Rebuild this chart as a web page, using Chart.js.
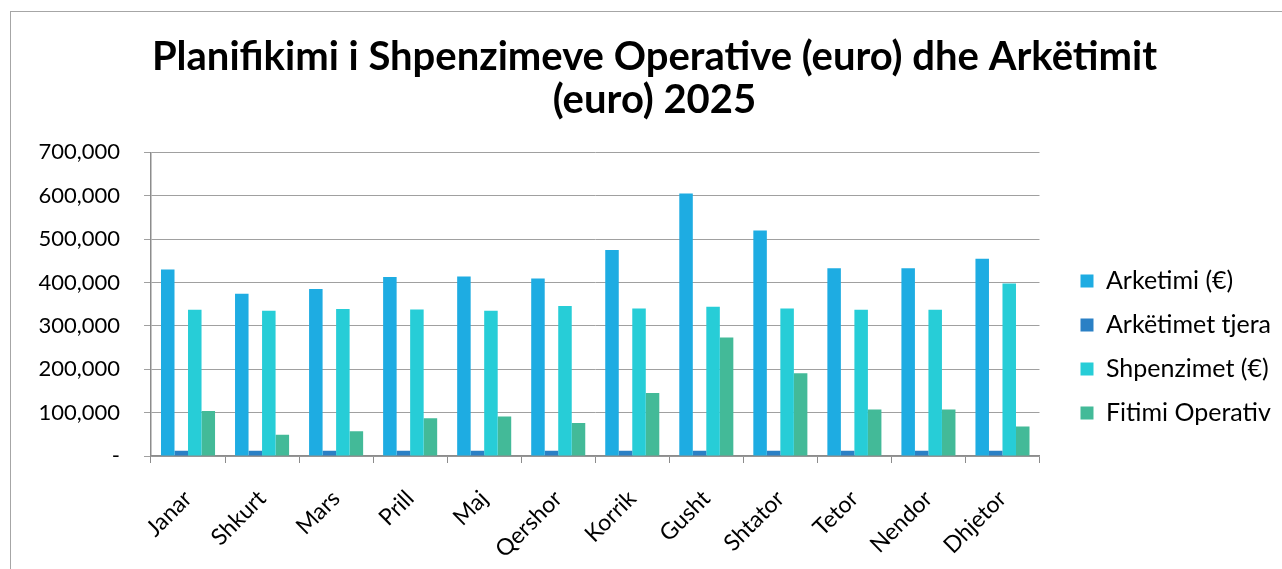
<!DOCTYPE html>
<html>
<head>
<meta charset="utf-8">
<script src="https://cdn.jsdelivr.net/npm/chart.js@4.4.1/dist/chart.umd.min.js"></script>
<style>
    html, body { margin: 0; padding: 0; background: #fff; }
    #frame { position: absolute; left: 10px; top: 11px; width: 1300px; height: 600px; border: 1px solid #a6a6a6; }
    #wrap { position: absolute; left: 0; top: 0; width: 1282px; height: 569px; }
</style>
</head>
<body>
<div id="frame"></div>
<div id="wrap"><canvas id="chart"></canvas></div>
<script>
    'use strict';

    var months = ['Janar', 'Shkurt', 'Mars', 'Prill', 'Maj', 'Qershor',
        'Korrik', 'Gusht', 'Shtator', 'Tetor', 'Nendor', 'Dhjetor'];

    var arketimi = [430000, 374000, 385000, 413000, 414000, 409000,
        475000, 605000, 520000, 433000, 433000, 455000];
    var arketimetTjera = [12000, 12000, 12000, 12000, 12000, 12000,
        12000, 12000, 12000, 12000, 12000, 12000];
    var shpenzimet = [337000, 335000, 339000, 338000, 335000, 346000,
        340000, 344000, 340000, 337000, 337000, 398000];
    var fitimi = [104000, 49000, 57000, 87000, 91000, 76000,
        145000, 273000, 191000, 107000, 107000, 68000];

    var FONT = 'Lato, "Open Sans", sans-serif';

    function series(label, data, color) {
        return {
            label: label,
            data: data,
            backgroundColor: color,
            borderWidth: 0,
            categoryPercentage: 0.73,
            barPercentage: 1.0
        };
    }

    var ctx = document.getElementById('chart').getContext('2d');

    var chart = new Chart(ctx, {
        type: 'bar',
        data: {
            labels: months,
            datasets: [
                series('Arketimi (€)', arketimi, '#1eace2'),
                series('Arkëtimet tjera', arketimetTjera, '#2a80c5'),
                series('Shpenzimet (€)', shpenzimet, '#27cdd7'),
                series('Fitimi Operativ', fitimi, '#43ba98')
            ]
        },
        options: {
            responsive: true,
            maintainAspectRatio: false,
            animation: false,
            layout: {
                padding: { left: 28, right: 1, top: 0, bottom: 8 }
            },
            plugins: {
                title: {
                    display: true,
                    text: ['Planifikimi i Shpenzimeve Operative (euro) dhe Arkëtimit', '(euro) 2025'],
                    color: '#000',
                    font: { family: FONT, size: 40, weight: 'bold', lineHeight: 1.08 },
                    padding: { top: 35, bottom: 31 }
                },
                legend: {
                    position: 'right',
                    align: 'start',
                    fullSize: false,
                    // empty title only pushes the items down
                    title: {
                        display: true,
                        text: ' ',
                        font: { size: 10, lineHeight: 1.2 },
                        padding: { top: 85, bottom: 0 }
                    },
                    labels: {
                        color: '#000',
                        boxWidth: 13,
                        boxHeight: 13,
                        padding: 19,
                        font: { family: FONT, size: 25 }
                    }
                },
                tooltip: { enabled: false }
            },
            scales: {
                x: {
                    grid: {
                        drawOnChartArea: false,
                        tickLength: 7,
                        color: '#8c8c8c'
                    },
                    border: { color: '#8c8c8c', width: 1.5 },
                    ticks: {
                        color: '#000',
                        maxRotation: 45,
                        minRotation: 45,
                        padding: 22,
                        font: { family: FONT, size: 23 }
                    },
                    afterFit: function (scale) {
                        scale.height = 105;
                    }
                },
                y: {
                    min: 0,
                    max: 700000,
                    grid: {
                        color: '#a0a0a0',
                        tickLength: 7
                    },
                    border: { color: '#8c8c8c', width: 1.5 },
                    ticks: {
                        stepSize: 100000,
                        color: '#000',
                        padding: 24,
                        font: { family: FONT, size: 22 },
                        callback: function (value) {
                            if (value === 0) return '-';
                            return value.toLocaleString('en-US');
                        }
                    },
                    afterFit: function (scale) {
                        scale.width = 123;
                    }
                },
                // hidden axis, only keeps a gap before the legend
                spacer: {
                    position: 'right',
                    display: false,
                    afterFit: function (scale) {
                        scale.width = 22;
                    }
                }
            }
        }
    });
</script>
</body>
</html>
